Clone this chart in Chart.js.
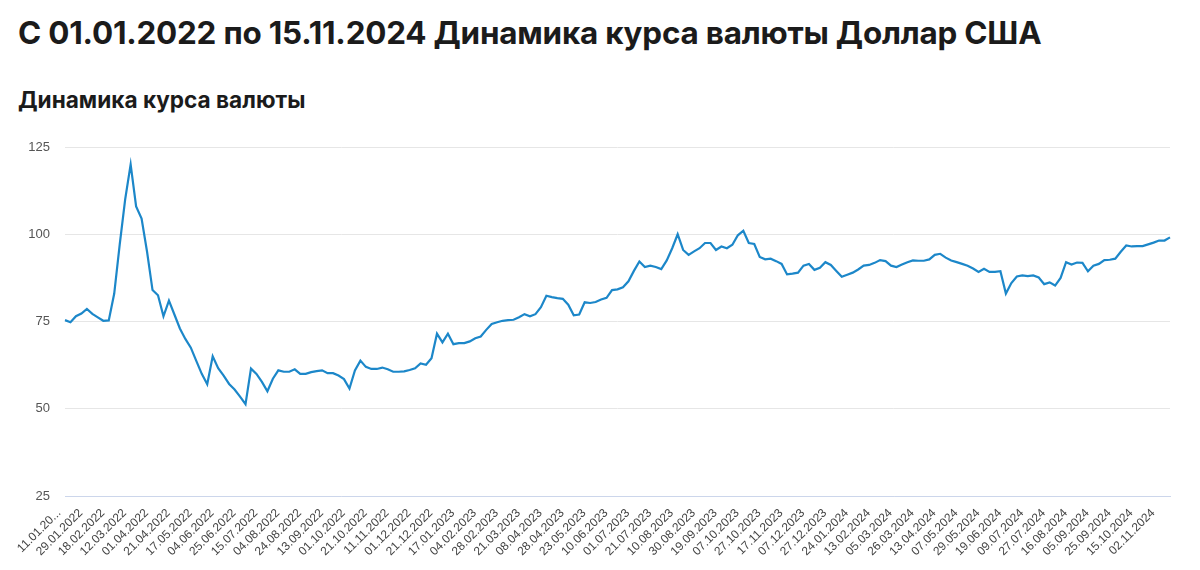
<!DOCTYPE html>
<html lang="ru">
<head>
  <meta charset="UTF-8" />
  <title>Динамика курса валюты</title>
  <script src="https://cdn.jsdelivr.net/npm/chart.js"></script>
  <style>
    html, body { margin: 0; padding: 0; background: #fff; }
    body { width: 1200px; height: 570px; position: relative; overflow: hidden; font-family: "Inter", "Roboto", sans-serif; color: #1b1b1b; }
    h1 { position: absolute; left: 18px; top: 14px; margin: 0; font-size: 31.4px; font-weight: 700; white-space: nowrap; letter-spacing: -0.2px; }
    h2 { position: absolute; left: 18px; top: 86px; margin: 0; font-size: 22.6px; font-weight: 700; white-space: nowrap; }
    #wrap { position: absolute; left: 0; top: 120px; width: 1200px; height: 450px; }
  </style>
</head>
<body>
  <h1>С 01.01.2022 по 15.11.2024 Динамика курса валюты Доллар США</h1>
  <h2>Динамика курса валюты</h2>
  <div id="wrap"><canvas id="rateChart"></canvas></div>

  <script>
    // dates shown on the x axis (one every ~14 trading days)
    const tickDates = [
      "11.01.20...", "29.01.2022", "18.02.2022", "12.03.2022", "01.04.2022", "21.04.2022",
      "17.05.2022", "04.06.2022", "25.06.2022", "15.07.2022", "04.08.2022", "24.08.2022",
      "13.09.2022", "01.10.2022", "21.10.2022", "11.11.2022", "01.12.2022", "21.12.2022",
      "17.01.2023", "04.02.2023", "28.02.2023", "21.03.2023", "08.04.2023", "28.04.2023",
      "23.05.2023", "10.06.2023", "01.07.2023", "21.07.2023", "10.08.2023", "30.08.2023",
      "19.09.2023", "07.10.2023", "27.10.2023", "17.11.2023", "07.12.2023", "27.12.2023",
      "24.01.2024", "13.02.2024", "05.03.2024", "26.03.2024", "13.04.2024", "07.05.2024",
      "29.05.2024", "19.06.2024", "09.07.2024", "27.07.2024", "16.08.2024", "05.09.2024",
      "25.09.2024", "15.10.2024", "02.11.2024"
    ];
    // samples per tick interval
    const perTick = 4;

    // USD/RUB rate
    const usdRate = [
      75.4, 74.8, 76.5, 77.3, 78.6, 77.2, 76.2, 75.2, 75.3, 83,
      97, 110, 120, 108, 104.5, 95, 84, 82.5, 76.5, 81,
      77, 73, 70, 67.5, 63.7, 60, 57, 65, 61.6, 59.5,
      57.1, 55.5, 53.5, 51.3, 61.5, 60, 57.7, 55, 58.6, 61,
      60.6, 60.6, 61.3, 60, 60, 60.5, 60.8, 61, 60.2, 60.2,
      59.5, 58.5, 55.8, 61, 63.8, 62, 61.4, 61.4, 61.8, 61.3,
      60.6, 60.6, 60.7, 61.1, 61.6, 63, 62.6, 64.5, 71.5, 69,
      71.5, 68.5, 68.8, 68.8, 69.3, 70.2, 70.7, 72.6, 74.3, 74.8,
      75.2, 75.4, 75.5, 76.2, 77.1, 76.5, 77.1, 79.1, 82.4, 82,
      81.7, 81.5, 79.8, 76.8, 77, 80.5, 80.3, 80.6, 81.3, 81.8,
      84, 84.2, 84.8, 86.5, 89.5, 92.2, 90.6, 91, 90.6, 90,
      92.5, 96, 100, 95.5, 94.1, 95.1, 96, 97.5, 97.5, 95.5,
      96.5, 96, 97, 99.7, 101, 97.5, 97.2, 93.5, 92.8, 93,
      92.3, 91.5, 88.5, 88.7, 89, 91, 91.5, 89.8, 90.4, 92,
      91.2, 89.5, 87.8, 88.4, 89, 89.9, 91, 91.2, 91.8, 92.6,
      92.3, 91, 90.6, 91.3, 92, 92.5, 92.4, 92.4, 92.8, 94.1,
      94.4, 93.3, 92.5, 92, 91.5, 91, 90.2, 89.2, 90.1, 89.2,
      89.2, 89.4, 83, 86, 87.9, 88.2, 88, 88.2, 87.6, 85.7,
      86.2, 85.3, 87.5, 92, 91.3, 91.9, 91.8, 89.4, 91, 91.5,
      92.6, 92.7, 93, 95, 96.8, 96.5, 96.6, 96.6, 97.1, 97.6,
      98.2, 98.2, 99.1
    ];

    const yTicks = [25, 50, 75, 100, 125];

    // one label per sample, only the tick dates are shown
    const labels = usdRate.map((v, i) => (i % perTick === 0 ? (tickDates[i / perTick] || "") : ""));

    const ctx = document.getElementById("rateChart").getContext("2d");
    new Chart(ctx, {
      type: "line",
      data: {
        labels: labels,
        datasets: [{
          label: "Доллар США",
          data: usdRate,
          borderColor: "#1c87c9",
          borderWidth: 2.2,
          pointRadius: 0,
          tension: 0,
          fill: false
        }]
      },
      options: {
        responsive: true,
        maintainAspectRatio: false,
        animation: false,
        layout: { padding: { top: 27, right: 30, bottom: 0, left: 0 } },
        plugins: { legend: { display: false }, tooltip: { enabled: false } },
        scales: {
          x: {
            afterFit: (axis) => { axis.height = 74; },
            grid: { display: false, drawTicks: false },
            border: { display: true, color: "#ccd6eb", width: 1 },
            ticks: {
              autoSkip: false,
              minRotation: 45,
              maxRotation: 45,
              padding: 10,
              labelOffset: -6,
              color: "#444",
              font: { family: "Liberation Sans, Arial, sans-serif", size: 12 }
            }
          },
          y: {
            min: yTicks[0],
            max: yTicks[yTicks.length - 1],
            afterBuildTicks: (axis) => { axis.ticks = yTicks.map(v => ({ value: v })); },
            afterFit: (axis) => { axis.width = 65; },
            grid: { color: "#e6e6e6", drawTicks: false },
            border: { display: false },
            ticks: {
              padding: 15,
              color: "#555",
              font: { family: "Liberation Sans, Arial, sans-serif", size: 13 }
            }
          }
        }
      }
    });
  </script>
</body>
</html>
